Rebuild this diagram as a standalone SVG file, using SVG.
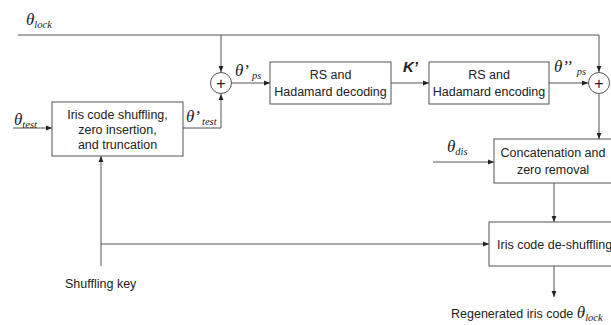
<svg xmlns="http://www.w3.org/2000/svg" width="611" height="325" viewBox="0 0 611 325">
<defs>
<marker id="ah" viewBox="0 0 10 10" refX="10" refY="5" markerWidth="6" markerHeight="6" orient="auto" markerUnits="userSpaceOnUse">
<path d="M0,1 L10,5 L0,9 z" fill="#222"/>
</marker>
<style>
.ln{fill:none;stroke:#555;stroke-width:1}
.box{fill:#fff;stroke:#555;stroke-width:1}
.t{font-family:"Liberation Sans",Arial,sans-serif;font-size:12.5px;fill:#222}
.m{font-family:"Liberation Serif","Times New Roman",serif;font-style:italic;fill:#222}
.th{font-size:17px}
.sb{font-size:10.5px}
.pl{font-family:"Liberation Sans",Arial,sans-serif;font-size:16px;fill:#222}
</style>
</defs>
<rect width="611" height="325" fill="#fff"/>
<g id="connectors">
<path class="ln" d="M18,35 H599 V72" marker-end="url(#ah)"/>
<path class="ln" d="M221,35 V72" marker-end="url(#ah)"/>
<path class="ln" d="M13,128 H52" marker-end="url(#ah)"/>
<path class="ln" d="M183,128 H221 V94" marker-end="url(#ah)"/>
<path class="ln" d="M232,83 H270" marker-end="url(#ah)"/>
<path class="ln" d="M391,83 H429" marker-end="url(#ah)"/>
<path class="ln" d="M549,83 H588" marker-end="url(#ah)"/>
<path class="ln" d="M599,94 V139" marker-end="url(#ah)"/>
<path class="ln" d="M433,162 H494" marker-end="url(#ah)"/>
<path class="ln" d="M554,183 V222" marker-end="url(#ah)"/>
<path class="ln" d="M101,266 V156" marker-end="url(#ah)"/>
<path class="ln" d="M101,244 H489" marker-end="url(#ah)"/>
<path class="ln" d="M554,266 V297" marker-end="url(#ah)"/>
</g>
<g id="sum1">
<circle cx="221" cy="83" r="10.5" class="box"/>
<text x="221" y="88.5" text-anchor="middle" class="pl">+</text>
</g>
<g id="sum2">
<circle cx="599" cy="83" r="10.5" class="box"/>
<text x="599" y="88.5" text-anchor="middle" class="pl">+</text>
</g>
<g id="shuffle">
<rect x="52" y="102" width="131" height="54" class="box"/>
<text x="117.5" y="119" text-anchor="middle" class="t">Iris code shuffling,</text>
<text x="117.5" y="134" text-anchor="middle" class="t">zero insertion,</text>
<text x="117.5" y="149" text-anchor="middle" class="t">and truncation</text>
</g>
<g id="decode">
<rect x="270" y="62" width="121" height="42" class="box"/>
<text x="330.5" y="79" text-anchor="middle" class="t">RS and</text>
<text x="330.5" y="96" text-anchor="middle" class="t">Hadamard decoding</text>
</g>
<g id="encode">
<rect x="429" y="62" width="120" height="42" class="box"/>
<text x="489" y="79" text-anchor="middle" class="t">RS and</text>
<text x="489" y="96" text-anchor="middle" class="t">Hadamard encoding</text>
</g>
<g id="concat">
<rect x="494" y="139" width="120" height="44" class="box"/>
<text x="553" y="157" text-anchor="middle" class="t">Concatenation and</text>
<text x="553" y="174" text-anchor="middle" class="t">zero removal</text>
</g>
<g id="deshuffle">
<rect x="489" y="222" width="125" height="44" class="box"/>
<text x="497" y="249" class="t">Iris code de-shuffling</text>
</g>
<g id="labels">
<text x="26" y="25" class="m th">θ<tspan class="sb" dy="3">lock</tspan></text>
<text x="14" y="125" class="m th">θ<tspan class="sb" dy="3">test</tspan></text>
<text x="186" y="122" class="m th">θ’<tspan class="sb" dx="2" dy="3">test</tspan></text>
<text x="235" y="76" class="m th">θ’<tspan class="sb" dx="3" dy="3">ps</tspan></text>
<text x="403" y="72" class="t" style="font-size:15px;font-weight:bold;font-style:italic">K’</text>
<text x="554" y="72" class="m th">θ’’<tspan class="sb" dx="5" dy="3">ps</tspan></text>
<text x="447" y="152" class="m th">θ<tspan class="sb" dy="3">dis</tspan></text>
<text x="65" y="288" class="t">Shuffling key</text>
<text x="451" y="318" class="t">Regenerated iris code <tspan class="m th">θ</tspan><tspan class="m sb" dy="3">lock</tspan></text>
</g>
</svg>
